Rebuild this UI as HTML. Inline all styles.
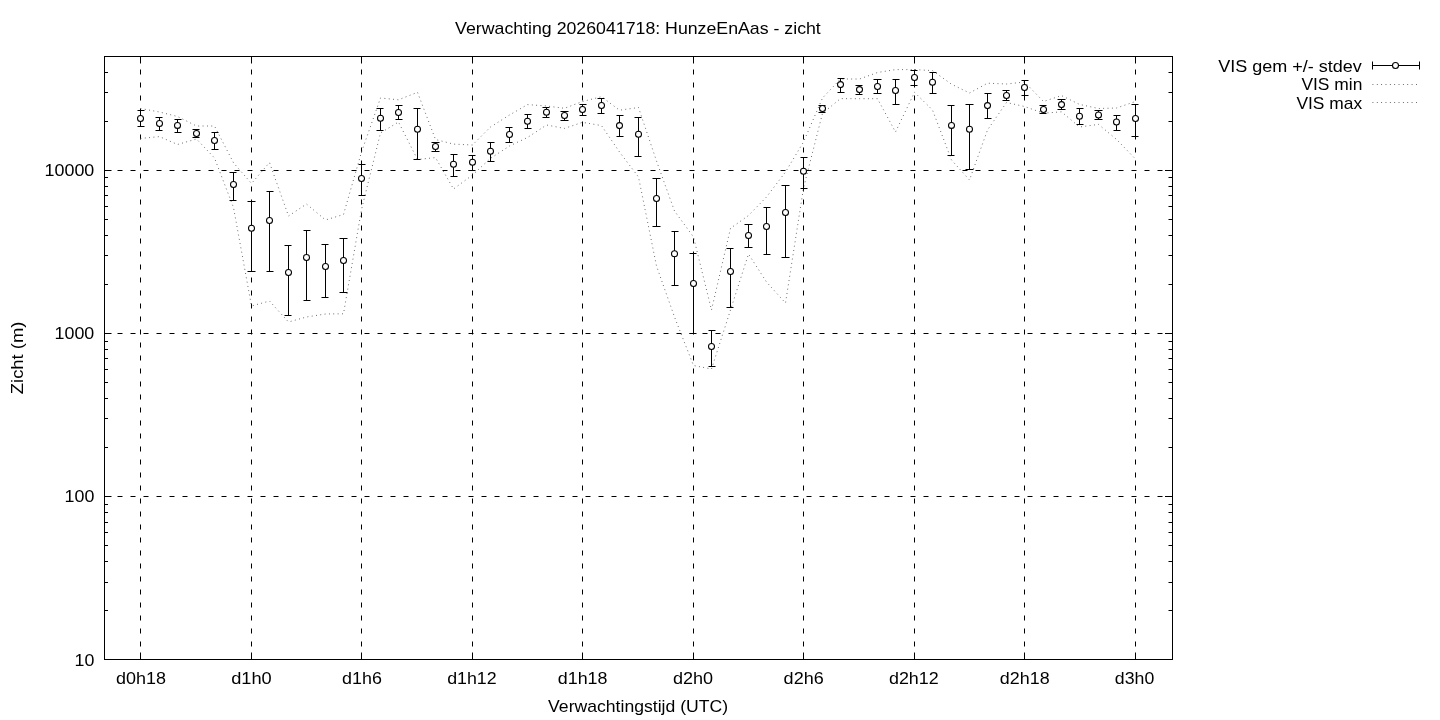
<!DOCTYPE html><html><head><meta charset="utf-8"><style>html,body{margin:0;padding:0;background:#fff;overflow:hidden}svg{display:block;will-change:transform}text{font-family:"Liberation Sans",sans-serif;fill:#000}</style></head><body>
<svg width="1440" height="720" viewBox="0 0 1440 720">
<rect width="1440" height="720" fill="#fff"/>
<path d="M140.5 56.5V659.5M251.5 56.5V659.5M361.5 56.5V659.5M472.5 56.5V659.5M582.5 56.5V659.5M693.5 56.5V659.5M803.5 56.5V659.5M914.5 56.5V659.5M1024.5 56.5V659.5M1135.5 56.5V659.5M104.5 496.5H1172.5M104.5 333.5H1172.5M104.5 170.5H1172.5" stroke="#000" stroke-width="1" stroke-dasharray="5 8" fill="none"/>
<path d="M140.5 659.5v-7M140.5 56.5v7M251.5 659.5v-7M251.5 56.5v7M361.5 659.5v-7M361.5 56.5v7M472.5 659.5v-7M472.5 56.5v7M582.5 659.5v-7M582.5 56.5v7M693.5 659.5v-7M693.5 56.5v7M803.5 659.5v-7M803.5 56.5v7M914.5 659.5v-7M914.5 56.5v7M1024.5 659.5v-7M1024.5 56.5v7M1135.5 659.5v-7M1135.5 56.5v7M104.5 610.5h3.5M1172.5 610.5h-4.0M104.5 582.5h3.5M1172.5 582.5h-4.0M104.5 561.5h3.5M1172.5 561.5h-4.0M104.5 545.5h3.5M1172.5 545.5h-4.0M104.5 532.5h3.5M1172.5 532.5h-4.0M104.5 522.5h3.5M1172.5 522.5h-4.0M104.5 512.5h3.5M1172.5 512.5h-4.0M104.5 504.5h3.5M1172.5 504.5h-4.0M104.5 496.5h7M1172.5 496.5h-7.5M104.5 447.5h3.5M1172.5 447.5h-4.0M104.5 418.5h3.5M1172.5 418.5h-4.0M104.5 398.5h3.5M1172.5 398.5h-4.0M104.5 382.5h3.5M1172.5 382.5h-4.0M104.5 369.5h3.5M1172.5 369.5h-4.0M104.5 358.5h3.5M1172.5 358.5h-4.0M104.5 349.5h3.5M1172.5 349.5h-4.0M104.5 341.5h3.5M1172.5 341.5h-4.0M104.5 333.5h7M1172.5 333.5h-7.5M104.5 284.5h3.5M1172.5 284.5h-4.0M104.5 255.5h3.5M1172.5 255.5h-4.0M104.5 235.5h3.5M1172.5 235.5h-4.0M104.5 219.5h3.5M1172.5 219.5h-4.0M104.5 206.5h3.5M1172.5 206.5h-4.0M104.5 195.5h3.5M1172.5 195.5h-4.0M104.5 186.5h3.5M1172.5 186.5h-4.0M104.5 177.5h3.5M1172.5 177.5h-4.0M104.5 170.5h7M1172.5 170.5h-7.5M104.5 121.5h3.5M1172.5 121.5h-4.0M104.5 92.5h3.5M1172.5 92.5h-4.0M104.5 72.5h3.5M1172.5 72.5h-4.0" stroke="#000" stroke-width="1" fill="none"/>
<rect x="104.5" y="56.5" width="1068.0" height="603.0" fill="none" stroke="#000" stroke-width="1"/>
<polyline points="140.50,138.5 159.50,136.6 177.50,144.5 196.50,139.0 214.50,158.0 233.50,207.5 251.50,306.0 269.50,301.0 288.50,322.0 306.50,317.0 325.50,314.0 343.50,313.8 361.50,209.5 380.50,133.0 398.50,122.0 417.50,159.5 435.50,157.6 453.50,189.0 472.50,175.0 490.50,158.3 509.50,146.0 527.50,137.5 546.50,125.0 564.50,128.4 582.50,122.3 601.50,125.6 619.50,152.0 638.50,177.0 656.50,266.0 674.50,317.0 693.50,365.5 711.50,369.0 730.50,310.0 748.50,254.0 766.50,282.0 785.50,303.0 803.50,188.0 822.50,113.3 840.50,98.6 859.50,98.7 877.50,98.7 895.50,132.0 914.50,92.3 932.50,110.0 951.50,160.0 969.50,180.0 987.50,130.0 1006.50,102.5 1024.50,106.5 1043.50,113.2 1061.50,111.8 1079.50,127.0 1098.50,124.4 1116.50,139.4 1135.50,159.0" stroke="#555" stroke-width="1" stroke-dasharray="0.85 3.5" fill="none"/>
<polyline points="140.50,108.5 159.50,112.0 177.50,116.5 196.50,126.0 214.50,126.0 233.50,162.8 251.50,183.5 269.50,162.5 288.50,216.0 306.50,204.0 325.50,220.0 343.50,214.5 361.50,152.0 380.50,98.0 398.50,99.8 417.50,92.3 435.50,139.5 453.50,144.1 472.50,145.0 490.50,127.0 509.50,115.0 527.50,104.6 546.50,106.0 564.50,108.3 582.50,101.5 601.50,96.7 619.50,110.2 638.50,107.5 656.50,161.0 674.50,211.0 693.50,237.0 711.50,310.0 730.50,228.3 748.50,215.5 766.50,197.0 785.50,172.0 803.50,142.0 822.50,98.0 840.50,79.0 859.50,79.0 877.50,72.5 895.50,69.6 914.50,69.6 932.50,70.6 951.50,84.2 969.50,93.0 987.50,83.2 1006.50,84.0 1024.50,82.0 1043.50,101.5 1061.50,95.6 1079.50,104.4 1098.50,108.5 1116.50,108.0 1135.50,101.5" stroke="#555" stroke-width="1" stroke-dasharray="0.85 3.5" fill="none"/>
<path d="M140.50 110.5V126.5M137.5 110.5H144.5M137.5 126.5H144.5M159.50 117.5V130.5M155.5 117.5H162.5M155.5 130.5H162.5M177.50 119.5V132.5M174.5 119.5H181.5M174.5 132.5H181.5M196.50 129.5V137.5M192.5 129.5H199.5M192.5 137.5H199.5M214.50 132.5V149.5M211.5 132.5H218.5M211.5 149.5H218.5M233.50 172.5V200.5M229.5 172.5H236.5M229.5 200.5H236.5M251.50 201.5V271.5M247.5 201.5H255.5M247.5 271.5H255.5M269.50 191.5V271.5M266.5 191.5H273.5M266.5 271.5H273.5M288.50 245.5V315.5M284.5 245.5H291.5M284.5 315.5H291.5M306.50 230.5V300.5M303.5 230.5H310.5M303.5 300.5H310.5M325.50 244.5V297.5M321.5 244.5H328.5M321.5 297.5H328.5M343.50 238.5V292.5M339.5 238.5H347.5M339.5 292.5H347.5M361.50 164.5V195.5M358.5 164.5H365.5M358.5 195.5H365.5M380.50 108.5V130.5M376.5 108.5H383.5M376.5 130.5H383.5M398.50 105.5V119.5M395.5 105.5H402.5M395.5 119.5H402.5M417.50 108.5V159.5M413.5 108.5H420.5M413.5 159.5H420.5M435.50 142.5V151.5M431.5 142.5H439.5M431.5 151.5H439.5M453.50 154.5V176.5M450.5 154.5H457.5M450.5 176.5H457.5M472.50 155.5V170.5M468.5 155.5H475.5M468.5 170.5H475.5M490.50 142.5V161.5M487.5 142.5H494.5M487.5 161.5H494.5M509.50 127.5V142.5M505.5 127.5H512.5M505.5 142.5H512.5M527.50 114.5V128.5M524.5 114.5H531.5M524.5 128.5H531.5M546.50 107.5V117.5M542.5 107.5H549.5M542.5 117.5H549.5M564.50 111.5V120.5M560.5 111.5H568.5M560.5 120.5H568.5M582.50 104.5V115.5M579.5 104.5H586.5M579.5 115.5H586.5M601.50 98.5V113.5M597.5 98.5H604.5M597.5 113.5H604.5M619.50 115.5V136.5M616.5 115.5H623.5M616.5 136.5H623.5M638.50 117.5V156.5M634.5 117.5H641.5M634.5 156.5H641.5M656.50 178.5V226.5M652.5 178.5H660.5M652.5 226.5H660.5M674.50 231.5V285.5M671.5 231.5H678.5M671.5 285.5H678.5M693.50 253.5V333.5M689.5 253.5H696.5M689.5 333.5H696.5M711.50 330.5V366.5M708.5 330.5H715.5M708.5 366.5H715.5M730.50 248.5V307.5M726.5 248.5H733.5M726.5 307.5H733.5M748.50 224.5V247.5M744.5 224.5H752.5M744.5 247.5H752.5M766.50 207.5V254.5M763.5 207.5H770.5M763.5 254.5H770.5M785.50 185.5V257.5M781.5 185.5H789.5M781.5 257.5H789.5M803.50 157.5V188.5M800.5 157.5H807.5M800.5 188.5H807.5M822.50 105.5V112.5M818.5 105.5H825.5M818.5 112.5H825.5M840.50 78.5V92.5M837.5 78.5H844.5M837.5 92.5H844.5M859.50 85.5V94.5M855.5 85.5H862.5M855.5 94.5H862.5M877.50 79.5V93.5M873.5 79.5H881.5M873.5 93.5H881.5M895.50 79.5V104.5M892.5 79.5H899.5M892.5 104.5H899.5M914.50 70.5V85.5M910.5 70.5H917.5M910.5 85.5H917.5M932.50 72.5V93.5M929.5 72.5H936.5M929.5 93.5H936.5M951.50 105.5V155.5M947.5 105.5H954.5M947.5 155.5H954.5M969.50 104.5V169.5M965.5 104.5H973.5M965.5 169.5H973.5M987.50 93.5V118.5M984.5 93.5H991.5M984.5 118.5H991.5M1006.50 90.5V100.5M1002.5 90.5H1009.5M1002.5 100.5H1009.5M1024.50 80.5V95.5M1021.5 80.5H1028.5M1021.5 95.5H1028.5M1043.50 105.5V113.5M1039.5 105.5H1046.5M1039.5 113.5H1046.5M1061.50 99.5V109.5M1057.5 99.5H1065.5M1057.5 109.5H1065.5M1079.50 108.5V124.5M1076.5 108.5H1083.5M1076.5 124.5H1083.5M1098.50 110.5V119.5M1094.5 110.5H1102.5M1094.5 119.5H1102.5M1116.50 115.5V130.5M1113.5 115.5H1120.5M1113.5 130.5H1120.5M1135.50 104.5V136.5M1131.5 104.5H1138.5M1131.5 136.5H1138.5" stroke="#000" stroke-width="1" fill="none"/>
<circle cx="140.50" cy="118.5" r="3" fill="#fff" stroke="#000" stroke-width="1.05"/>
<circle cx="159.50" cy="123.5" r="3" fill="#fff" stroke="#000" stroke-width="1.05"/>
<circle cx="177.50" cy="125.4" r="3" fill="#fff" stroke="#000" stroke-width="1.05"/>
<circle cx="196.50" cy="133.4" r="3" fill="#fff" stroke="#000" stroke-width="1.05"/>
<circle cx="214.50" cy="140.4" r="3" fill="#fff" stroke="#000" stroke-width="1.05"/>
<circle cx="233.50" cy="184.4" r="3" fill="#fff" stroke="#000" stroke-width="1.05"/>
<circle cx="251.50" cy="228.3" r="3" fill="#fff" stroke="#000" stroke-width="1.05"/>
<circle cx="269.50" cy="220.4" r="3" fill="#fff" stroke="#000" stroke-width="1.05"/>
<circle cx="288.50" cy="272.4" r="3" fill="#fff" stroke="#000" stroke-width="1.05"/>
<circle cx="306.50" cy="257.4" r="3" fill="#fff" stroke="#000" stroke-width="1.05"/>
<circle cx="325.50" cy="266.5" r="3" fill="#fff" stroke="#000" stroke-width="1.05"/>
<circle cx="343.50" cy="260.4" r="3" fill="#fff" stroke="#000" stroke-width="1.05"/>
<circle cx="361.50" cy="178.4" r="3" fill="#fff" stroke="#000" stroke-width="1.05"/>
<circle cx="380.50" cy="118.3" r="3" fill="#fff" stroke="#000" stroke-width="1.05"/>
<circle cx="398.50" cy="112.5" r="3" fill="#fff" stroke="#000" stroke-width="1.05"/>
<circle cx="417.50" cy="129.3" r="3" fill="#fff" stroke="#000" stroke-width="1.05"/>
<circle cx="435.50" cy="146.5" r="3" fill="#fff" stroke="#000" stroke-width="1.05"/>
<circle cx="453.50" cy="164.3" r="3" fill="#fff" stroke="#000" stroke-width="1.05"/>
<circle cx="472.50" cy="162.2" r="3" fill="#fff" stroke="#000" stroke-width="1.05"/>
<circle cx="490.50" cy="151.3" r="3" fill="#fff" stroke="#000" stroke-width="1.05"/>
<circle cx="509.50" cy="134.5" r="3" fill="#fff" stroke="#000" stroke-width="1.05"/>
<circle cx="527.50" cy="121.3" r="3" fill="#fff" stroke="#000" stroke-width="1.05"/>
<circle cx="546.50" cy="112.2" r="3" fill="#fff" stroke="#000" stroke-width="1.05"/>
<circle cx="564.50" cy="115.5" r="3" fill="#fff" stroke="#000" stroke-width="1.05"/>
<circle cx="582.50" cy="109.5" r="3" fill="#fff" stroke="#000" stroke-width="1.05"/>
<circle cx="601.50" cy="105.4" r="3" fill="#fff" stroke="#000" stroke-width="1.05"/>
<circle cx="619.50" cy="125.6" r="3" fill="#fff" stroke="#000" stroke-width="1.05"/>
<circle cx="638.50" cy="134.3" r="3" fill="#fff" stroke="#000" stroke-width="1.05"/>
<circle cx="656.50" cy="198.4" r="3" fill="#fff" stroke="#000" stroke-width="1.05"/>
<circle cx="674.50" cy="253.7" r="3" fill="#fff" stroke="#000" stroke-width="1.05"/>
<circle cx="693.50" cy="283.5" r="3" fill="#fff" stroke="#000" stroke-width="1.05"/>
<circle cx="711.50" cy="346.4" r="3" fill="#fff" stroke="#000" stroke-width="1.05"/>
<circle cx="730.50" cy="271.5" r="3" fill="#fff" stroke="#000" stroke-width="1.05"/>
<circle cx="748.50" cy="235.5" r="3" fill="#fff" stroke="#000" stroke-width="1.05"/>
<circle cx="766.50" cy="226.4" r="3" fill="#fff" stroke="#000" stroke-width="1.05"/>
<circle cx="785.50" cy="212.5" r="3" fill="#fff" stroke="#000" stroke-width="1.05"/>
<circle cx="803.50" cy="171.3" r="3" fill="#fff" stroke="#000" stroke-width="1.05"/>
<circle cx="822.50" cy="108.5" r="3" fill="#fff" stroke="#000" stroke-width="1.05"/>
<circle cx="840.50" cy="84.6" r="3" fill="#fff" stroke="#000" stroke-width="1.05"/>
<circle cx="859.50" cy="89.6" r="3" fill="#fff" stroke="#000" stroke-width="1.05"/>
<circle cx="877.50" cy="86.5" r="3" fill="#fff" stroke="#000" stroke-width="1.05"/>
<circle cx="895.50" cy="90.4" r="3" fill="#fff" stroke="#000" stroke-width="1.05"/>
<circle cx="914.50" cy="77.4" r="3" fill="#fff" stroke="#000" stroke-width="1.05"/>
<circle cx="932.50" cy="82.2" r="3" fill="#fff" stroke="#000" stroke-width="1.05"/>
<circle cx="951.50" cy="125.4" r="3" fill="#fff" stroke="#000" stroke-width="1.05"/>
<circle cx="969.50" cy="129.3" r="3" fill="#fff" stroke="#000" stroke-width="1.05"/>
<circle cx="987.50" cy="105.6" r="3" fill="#fff" stroke="#000" stroke-width="1.05"/>
<circle cx="1006.50" cy="95.4" r="3" fill="#fff" stroke="#000" stroke-width="1.05"/>
<circle cx="1024.50" cy="87.5" r="3" fill="#fff" stroke="#000" stroke-width="1.05"/>
<circle cx="1043.50" cy="109.4" r="3" fill="#fff" stroke="#000" stroke-width="1.05"/>
<circle cx="1061.50" cy="104.6" r="3" fill="#fff" stroke="#000" stroke-width="1.05"/>
<circle cx="1079.50" cy="116.25" r="3" fill="#fff" stroke="#000" stroke-width="1.05"/>
<circle cx="1098.50" cy="115.0" r="3" fill="#fff" stroke="#000" stroke-width="1.05"/>
<circle cx="1116.50" cy="122.0" r="3" fill="#fff" stroke="#000" stroke-width="1.05"/>
<circle cx="1135.50" cy="118.5" r="3" fill="#fff" stroke="#000" stroke-width="1.05"/>
<text x="455.11" y="34" font-size="16.6" textLength="365.70" lengthAdjust="spacingAndGlyphs">Verwachting 2026041718: HunzeEnAas - zicht</text>
<text x="116.02" y="684" font-size="16.6" textLength="49.94" lengthAdjust="spacingAndGlyphs">d0h18</text>
<text x="231.17" y="684" font-size="16.6" textLength="40.59" lengthAdjust="spacingAndGlyphs">d1h0</text>
<text x="342.09" y="684" font-size="16.6" textLength="39.81" lengthAdjust="spacingAndGlyphs">d1h6</text>
<text x="447.18" y="684" font-size="16.6" textLength="49.47" lengthAdjust="spacingAndGlyphs">d1h12</text>
<text x="557.80" y="684" font-size="16.6" textLength="49.66" lengthAdjust="spacingAndGlyphs">d1h18</text>
<text x="672.94" y="684" font-size="16.6" textLength="40.16" lengthAdjust="spacingAndGlyphs">d2h0</text>
<text x="783.64" y="684" font-size="16.6" textLength="40.08" lengthAdjust="spacingAndGlyphs">d2h6</text>
<text x="888.94" y="684" font-size="16.6" textLength="49.78" lengthAdjust="spacingAndGlyphs">d2h12</text>
<text x="999.85" y="684" font-size="16.6" textLength="49.75" lengthAdjust="spacingAndGlyphs">d2h18</text>
<text x="1114.89" y="684" font-size="16.6" textLength="39.42" lengthAdjust="spacingAndGlyphs">d3h0</text>
<text x="548.11" y="712" font-size="16.6" textLength="179.91" lengthAdjust="spacingAndGlyphs">Verwachtingstijd (UTC)</text>
<text x="1218.16" y="72" font-size="16.6" textLength="143.69" lengthAdjust="spacingAndGlyphs">VIS gem +/- stdev</text>
<text x="1301.43" y="90" font-size="16.6" textLength="60.94" lengthAdjust="spacingAndGlyphs">VIS min</text>
<text x="1296.43" y="109" font-size="16.6" textLength="65.67" lengthAdjust="spacingAndGlyphs">VIS max</text>
<text x="44.50" y="176" font-size="16.6" textLength="49.82" lengthAdjust="spacingAndGlyphs">10000</text>
<text x="54.52" y="339" font-size="16.6" textLength="39.77" lengthAdjust="spacingAndGlyphs">1000</text>
<text x="64.53" y="502" font-size="16.6" textLength="29.80" lengthAdjust="spacingAndGlyphs">100</text>
<text x="74.55" y="666" font-size="16.6" textLength="19.84" lengthAdjust="spacingAndGlyphs">10</text>
<text transform="translate(23.1 394.2) rotate(-90)" x="0" y="0" font-size="16" textLength="72.6" lengthAdjust="spacingAndGlyphs">Zicht (m)</text>
<path d="M1372.5 65.5H1419.5M1372.5 61.5v8M1419.5 61.5v8" stroke="#000" stroke-width="1" fill="none"/>
<circle cx="1395.5" cy="65.5" r="3" fill="#fff" stroke="#000" stroke-width="1.1"/>
<path d="M1372.5 84.5H1418M1372.5 102.5H1418" stroke="#555" stroke-width="1" stroke-dasharray="0.85 3.5" fill="none"/>
</svg></body></html>
